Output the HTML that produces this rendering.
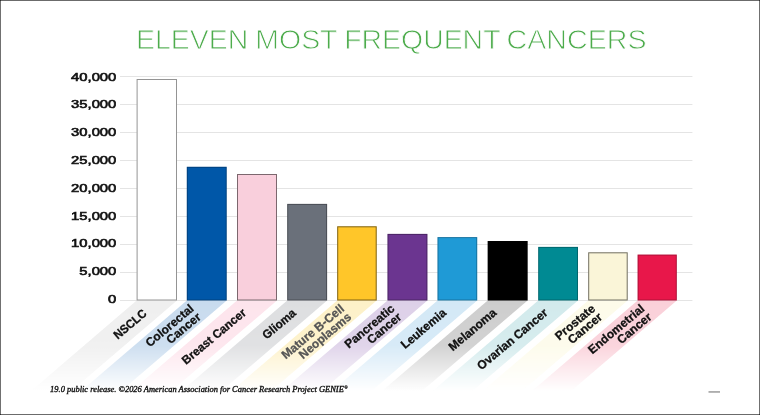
<!DOCTYPE html>
<html><head><meta charset="utf-8"><title>Eleven Most Frequent Cancers</title>
<style>html,body{margin:0;padding:0;background:#fff;}body{width:760px;height:415px;overflow:hidden;font-family:"Liberation Sans",sans-serif;}svg{display:block;will-change:transform;}text{font-family:"Liberation Sans",sans-serif;}.ft{font-family:"Liberation Serif",serif;font-style:italic;}</style></head><body>
<svg width="760" height="415" viewBox="0 0 760 415">
<defs>
<linearGradient id="fade" gradientUnits="userSpaceOnUse" x1="0" y1="300.5" x2="0" y2="391.0"><stop offset="0" stop-color="#fff" stop-opacity="1"/><stop offset="0.5" stop-color="#fff" stop-opacity="0.9"/><stop offset="1" stop-color="#fff" stop-opacity="0"/></linearGradient>
<mask id="m" maskUnits="userSpaceOnUse" x="0" y="300.5" width="760" height="90.5"><rect x="0" y="300.5" width="760" height="90.5" fill="url(#fade)"/></mask>
</defs>
<g mask="url(#m)">
<polygon points="136.6,300.5 177.0,300.5 71.4,391.0 31.0,391.0" fill="#efefef"/>
<polygon points="186.8,300.5 226.7,300.5 121.1,391.0 81.2,391.0" fill="#c8dbee"/>
<polygon points="237.0,300.5 277.0,300.5 171.4,391.0 131.4,391.0" fill="#fde4ec"/>
<polygon points="287.2,300.5 327.1,300.5 221.5,391.0 181.6,391.0" fill="#dddee0"/>
<polygon points="337.2,300.5 376.7,300.5 271.1,391.0 231.6,391.0" fill="#fdf1c8"/>
<polygon points="387.5,300.5 427.4,300.5 321.8,391.0 281.9,391.0" fill="#ddd0e8"/>
<polygon points="437.5,300.5 477.2,300.5 371.6,391.0 331.9,391.0" fill="#d3e8f6"/>
<polygon points="487.7,300.5 527.6,300.5 422.0,391.0 382.1,391.0" fill="#cdcdcd"/>
<polygon points="538.2,300.5 578.0,300.5 472.4,391.0 432.6,391.0" fill="#d2eaec"/>
<polygon points="588.2,300.5 627.7,300.5 522.1,391.0 482.6,391.0" fill="#fdfbea"/>
<polygon points="637.6,300.5 676.8,300.5 571.2,391.0 532.0,391.0" fill="#fad0d9"/>
</g>
<rect x="120" y="76" width="572.4" height="1" fill="#e4e4e4"/>
<rect x="120" y="104" width="572.4" height="1" fill="#e4e4e4"/>
<rect x="120" y="132" width="572.4" height="1" fill="#e4e4e4"/>
<rect x="120" y="160" width="572.4" height="1" fill="#e4e4e4"/>
<rect x="120" y="188" width="572.4" height="1" fill="#e4e4e4"/>
<rect x="120" y="216" width="572.4" height="1" fill="#e4e4e4"/>
<rect x="120" y="244" width="572.4" height="1" fill="#e4e4e4"/>
<rect x="120" y="272" width="572.4" height="1" fill="#e4e4e4"/>
<rect x="120" y="300" width="572.4" height="1" fill="#e4e4e4"/>
<text transform="translate(116.3,80.60) scale(1.345,1)" x="0" y="0" text-anchor="end" font-size="11" fill="#111" stroke="#111" stroke-width="0.6" class="yl">40,000</text>
<text transform="translate(116.3,108.39) scale(1.345,1)" x="0" y="0" text-anchor="end" font-size="11" fill="#111" stroke="#111" stroke-width="0.6" class="yl">35,000</text>
<text transform="translate(116.3,136.18) scale(1.345,1)" x="0" y="0" text-anchor="end" font-size="11" fill="#111" stroke="#111" stroke-width="0.6" class="yl">30,000</text>
<text transform="translate(116.3,163.97) scale(1.345,1)" x="0" y="0" text-anchor="end" font-size="11" fill="#111" stroke="#111" stroke-width="0.6" class="yl">25,000</text>
<text transform="translate(116.3,191.76) scale(1.345,1)" x="0" y="0" text-anchor="end" font-size="11" fill="#111" stroke="#111" stroke-width="0.6" class="yl">20,000</text>
<text transform="translate(116.3,219.55) scale(1.345,1)" x="0" y="0" text-anchor="end" font-size="11" fill="#111" stroke="#111" stroke-width="0.6" class="yl">15,000</text>
<text transform="translate(116.3,247.34) scale(1.345,1)" x="0" y="0" text-anchor="end" font-size="11" fill="#111" stroke="#111" stroke-width="0.6" class="yl">10,000</text>
<text transform="translate(116.3,275.13) scale(1.345,1)" x="0" y="0" text-anchor="end" font-size="11" fill="#111" stroke="#111" stroke-width="0.6" class="yl">5,000</text>
<text transform="translate(116.3,302.92) scale(1.345,1)" x="0" y="0" text-anchor="end" font-size="11" fill="#111" stroke="#111" stroke-width="0.6" class="yl">0</text>
<rect x="136.60" y="79.00" width="40.400000000000006" height="221.50" fill="#ffffff"/>
<rect x="137.10" y="79.50" width="39.400000000000006" height="220.50" fill="none" stroke="#000" stroke-opacity="0.42" stroke-width="1"/>
<rect x="186.80" y="166.80" width="39.89999999999998" height="133.70" fill="#0057a8"/>
<rect x="187.30" y="167.30" width="38.89999999999998" height="132.70" fill="none" stroke="#000" stroke-opacity="0.25" stroke-width="1"/>
<rect x="237.00" y="174.00" width="40.0" height="126.50" fill="#f9cfdc"/>
<rect x="237.50" y="174.50" width="39.0" height="125.50" fill="none" stroke="#000" stroke-opacity="0.5" stroke-width="1"/>
<rect x="287.20" y="203.90" width="39.900000000000034" height="96.60" fill="#6a707a"/>
<rect x="287.70" y="204.40" width="38.900000000000034" height="95.60" fill="none" stroke="#000" stroke-opacity="0.3" stroke-width="1"/>
<rect x="337.20" y="226.30" width="39.5" height="74.20" fill="#ffc629"/>
<rect x="337.70" y="226.80" width="38.5" height="73.20" fill="none" stroke="#000" stroke-opacity="0.5" stroke-width="1"/>
<rect x="387.50" y="233.90" width="39.89999999999998" height="66.60" fill="#6b3590"/>
<rect x="388.00" y="234.40" width="38.89999999999998" height="65.60" fill="none" stroke="#000" stroke-opacity="0.3" stroke-width="1"/>
<rect x="437.50" y="237.10" width="39.69999999999999" height="63.40" fill="#1f9ad6"/>
<rect x="438.00" y="237.60" width="38.69999999999999" height="62.40" fill="none" stroke="#000" stroke-opacity="0.25" stroke-width="1"/>
<rect x="487.70" y="241.00" width="39.900000000000034" height="59.50" fill="#000000"/>
<rect x="488.20" y="241.50" width="38.900000000000034" height="58.50" fill="none" stroke="#000" stroke-opacity="0.3" stroke-width="1"/>
<rect x="538.20" y="246.90" width="39.799999999999955" height="53.60" fill="#008a93"/>
<rect x="538.70" y="247.40" width="38.799999999999955" height="52.60" fill="none" stroke="#000" stroke-opacity="0.25" stroke-width="1"/>
<rect x="588.20" y="252.30" width="39.5" height="48.20" fill="#faf5d8"/>
<rect x="588.70" y="252.80" width="38.5" height="47.20" fill="none" stroke="#000" stroke-opacity="0.55" stroke-width="1"/>
<rect x="637.60" y="254.60" width="39.19999999999993" height="45.90" fill="#e8174a"/>
<rect x="638.10" y="255.10" width="38.19999999999993" height="44.90" fill="none" stroke="#000" stroke-opacity="0.25" stroke-width="1"/>
<text transform="translate(145.0,311.6) rotate(-40.0) scale(0.945,1)" text-anchor="end" font-size="12" font-weight="bold" fill="#111" stroke="#111" stroke-width="0.3" x="0" y="4">NSCLC</text>
<text transform="translate(195.6,311.0) rotate(-40.0) scale(1,1)" text-anchor="end" font-size="12" font-weight="bold" fill="#111" stroke="#111" stroke-width="0.3"><tspan x="0" y="-1.5">Colorectal</tspan><tspan x="0" y="9.5">Cancer</tspan></text>
<text transform="translate(244.3,311.0) rotate(-40.0) scale(0.975,1)" text-anchor="end" font-size="12" font-weight="bold" fill="#111" stroke="#111" stroke-width="0.3" x="0" y="4">Breast Cancer</text>
<text transform="translate(294.2,311.3) rotate(-40.0) scale(0.97,1)" text-anchor="end" font-size="12" font-weight="bold" fill="#111" stroke="#111" stroke-width="0.3" x="0" y="4">Glioma</text>
<text transform="translate(346.0,311.0) rotate(-40.0) scale(1,1)" text-anchor="end" font-size="12" font-weight="bold" fill="#555" stroke="#555" stroke-width="0.3"><tspan x="0" y="-1.5">Mature B-Cell</tspan><tspan x="0" y="9.5">Neoplasms</tspan></text>
<text transform="translate(396.3,311.0) rotate(-40.0) scale(1,1)" text-anchor="end" font-size="12" font-weight="bold" fill="#111" stroke="#111" stroke-width="0.3"><tspan x="0" y="-1.5">Pancreatic</tspan><tspan x="0" y="9.5">Cancer</tspan></text>
<text transform="translate(444.5,311.0) rotate(-40.0) scale(0.99,1)" text-anchor="end" font-size="12" font-weight="bold" fill="#111" stroke="#111" stroke-width="0.3" x="0" y="4">Leukemia</text>
<text transform="translate(494.7,311.0) rotate(-40.0) scale(0.99,1)" text-anchor="end" font-size="12" font-weight="bold" fill="#111" stroke="#111" stroke-width="0.3" x="0" y="4">Melanoma</text>
<text transform="translate(546.0,311.0) rotate(-40.0) scale(0.99,1)" text-anchor="end" font-size="12" font-weight="bold" fill="#111" stroke="#111" stroke-width="0.3" x="0" y="4">Ovarian Cancer</text>
<text transform="translate(597.0,311.0) rotate(-40.0) scale(1,1)" text-anchor="end" font-size="12" font-weight="bold" fill="#111" stroke="#111" stroke-width="0.3"><tspan x="0" y="-1.5">Prostate</tspan><tspan x="0" y="9.5">Cancer</tspan></text>
<text transform="translate(646.4,311.0) rotate(-40.0) scale(1,1)" text-anchor="end" font-size="12" font-weight="bold" fill="#111" stroke="#111" stroke-width="0.3"><tspan x="0" y="-1.5">Endometrial</tspan><tspan x="0" y="9.5">Cancer</tspan></text>
<text x="136.1" y="49.0" font-size="27.2" fill="#4dac4c" stroke="#fff" stroke-width="0.85" paint-order="fill stroke" textLength="112.2" lengthAdjust="spacingAndGlyphs">ELEVEN</text>
<text x="255.3" y="49.0" font-size="27.2" fill="#4dac4c" stroke="#fff" stroke-width="0.85" paint-order="fill stroke" textLength="82.2" lengthAdjust="spacingAndGlyphs">MOST</text>
<text x="344.2" y="49.0" font-size="27.2" fill="#4dac4c" stroke="#fff" stroke-width="0.85" paint-order="fill stroke" textLength="156.3" lengthAdjust="spacingAndGlyphs">FREQUENT</text>
<text x="506.5" y="49.0" font-size="27.2" fill="#4dac4c" stroke="#fff" stroke-width="0.85" paint-order="fill stroke" textLength="140.0" lengthAdjust="spacingAndGlyphs">CANCERS</text>
<text x="50.1" y="391.9" font-size="8.4" fill="#111" stroke="#111" stroke-width="0.35" class="ft" id="foot" textLength="293.7" lengthAdjust="spacingAndGlyphs">19.0 public release. ©2026 American Association for Cancer Research Project GENIE</text>
<text x="344.2" y="389.4" font-size="4.6" fill="#111" stroke="#111" stroke-width="0.3" class="ft">®</text>
<rect x="708.5" y="391.4" width="11.5" height="1.1" fill="#777"/>
<rect x="0" y="0" width="760" height="1" fill="#000" fill-opacity="0.58"/>
<rect x="0" y="414" width="760" height="1" fill="#000" fill-opacity="0.58"/>
<rect x="0" y="0" width="1" height="415" fill="#000" fill-opacity="0.56"/>
<rect x="759" y="0" width="1" height="415" fill="#000" fill-opacity="0.56"/>
</svg></body></html>
